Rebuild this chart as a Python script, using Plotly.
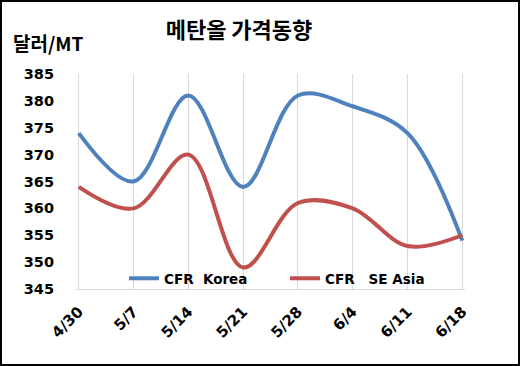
import plotly.graph_objects as go

dates = ["4/30", "5/7", "5/14", "5/21", "5/28", "6/4", "6/11", "6/18"]
korea = [374, 365, 381, 364, 381, 379, 374, 354]
se_asia = [364, 360, 370, 349, 361, 360, 353, 355]
y_ticks = [345, 350, 355, 360, 365, 370, 375, 380, 385]

FONT = "Noto Sans CJK KR"
NUMFONT = "DejaVu Sans"
W, H = 520, 366
ML, MR, MT, MB = 76, 55, 74, 77

fig = go.Figure()
fig.add_trace(go.Scatter(x=dates, y=korea, mode="lines", name="CFR\u00a0 Korea",
                         line=dict(color="#4F81BD", width=4, shape="spline", smoothing=1.0)))
fig.add_trace(go.Scatter(x=dates, y=se_asia, mode="lines", name="CFR\u00a0\u00a0 SE Asia",
                         line=dict(color="#C0504D", width=4, shape="spline", smoothing=1.0)))

pw = W - ML - MR
ph = H - MT - MB
fig.add_shape(type="rect", xref="paper", yref="paper",
              x0=(1 - ML) / pw, x1=1 + (MR - 1) / pw,
              y0=-(MB - 1) / ph, y1=1 + (MT - 1) / ph,
              line=dict(color="black", width=2), fillcolor="rgba(0,0,0,0)", layer="below")

fig.update_layout(
    width=W, height=H,
    margin=dict(l=ML, r=MR, t=MT, b=MB, autoexpand=False),
    paper_bgcolor="white", plot_bgcolor="white",
    font=dict(family=FONT, color="black"),
    title=dict(text="<b>메탄올 가격동향</b>", x=(239 - ML) / pw, xref="paper", xanchor="center",
               y=1 - 30 / H, yanchor="middle", font=dict(size=22, family=FONT)),
    showlegend=True,
    legend=dict(orientation="h", x=(124 - ML) / pw, xanchor="left", y=-5 / ph, yanchor="bottom",
                bgcolor="rgba(0,0,0,0)", font=dict(size=13.5, family=NUMFONT, weight="bold"),
                itemwidth=30, tracegroupgap=0, entrywidthmode="pixels", entrywidth=116),
    annotations=[dict(text="<b>달러/MT</b>", xref="paper", yref="paper",
                      x=(11 - ML) / pw, xanchor="left", y=1 + (MT - 42) / ph, yanchor="middle",
                      showarrow=False, font=dict(size=19, family=FONT))],
)
fig.update_xaxes(type="category", showgrid=True, gridcolor="#d9d9d9", gridwidth=1,
                 showline=True, linecolor="#d9d9d9", linewidth=1, automargin=False,
                 tickangle=-45, tickfont=dict(size=15, family=NUMFONT, weight="bold"),
                 range=[-0.05, 7.05], ticks="", ticklabelstandoff=7, fixedrange=True)
fig.update_yaxes(range=[345, 385], tickvals=y_ticks, showgrid=False, zeroline=False,
                 showline=False, automargin=False,
                 tickfont=dict(size=14.5, family=NUMFONT, weight="bold"),
                 ticks="", ticklabelstandoff=21)

fig.write_html("out.html", config={"displayModeBar": False},
               post_script="document.body.style.margin='0';document.body.style.overflow='hidden';")
